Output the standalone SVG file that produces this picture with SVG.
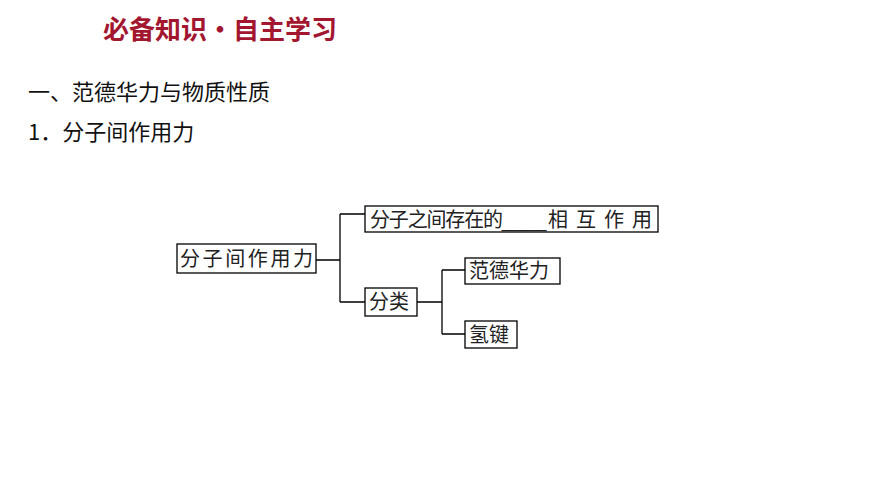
<svg xmlns="http://www.w3.org/2000/svg" width="870" height="489" viewBox="0 0 870 489">
<style>
.n{fill:#fff;stroke:#000;stroke-width:1.3}
.t{font-family:"Noto Sans CJK SC","Liberation Sans",sans-serif;font-size:20px;fill:#222}
.h{font-family:"Noto Sans CJK SC","Liberation Sans",sans-serif;font-size:22px;fill:#111}
.c{fill:none;stroke:#000;stroke-width:1.3}
</style>
<rect width="870" height="489" fill="#fff"/>
<text x="103" y="39" font-family="Noto Sans CJK SC,sans-serif" font-size="26" font-weight="bold" fill="#a3162f">必备知识·自主学习</text>
<text class="h" x="28" y="100">一、范德华力与物质性质</text>
<text class="h" x="28" y="140">1．分子间作用力</text>
<g id="connectors">
<path class="c" d="M316 260H340M340 214V302M340 214H365M340 302H365M417 302H442M442 270V334M442 270H465M442 334H465"/>
</g>
<g id="root"><rect class="n" x="177" y="244" width="139" height="29"/><text class="t" x="180" y="266" textLength="133">分子间作用力</text></g>
<g id="def"><rect class="n" x="365" y="206" width="293" height="26"/><text class="t" x="370" y="227"><tspan textLength="133">分子之间存在的</tspan><tspan font-family="Liberation Sans">____</tspan><tspan x="548" textLength="104">相互作用</tspan></text></g>
<g id="cls"><rect class="n" x="365" y="288" width="52" height="28"/><text class="t" x="369" y="309">分类</text></g>
<g id="vdw"><rect class="n" x="465" y="258" width="95" height="26"/><text class="t" x="469" y="278">范德华力</text></g>
<g id="hb"><rect class="n" x="465" y="321" width="52" height="27"/><text class="t" x="469" y="342">氢键</text></g>
</svg>
